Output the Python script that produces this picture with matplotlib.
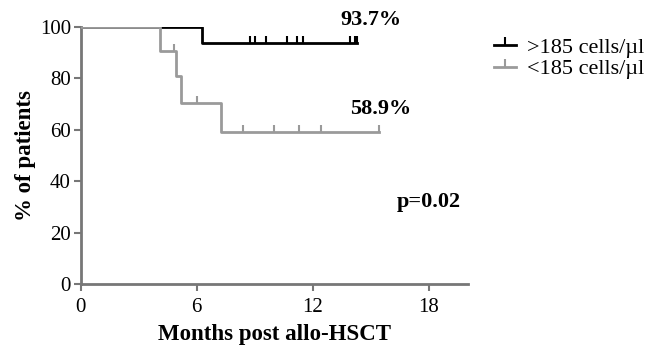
import matplotlib.pyplot as plt
from matplotlib.lines import Line2D

plt.rcParams['font.family'] = ['Liberation Serif', 'DejaVu Serif']

# Kaplan-Meier steps (months, % of patients)
high_t = [0, 6.3, 14.3]
high_s = [100, 93.7, 93.7]
high_cens_t = [4.6, 8.75, 9.0, 9.6, 10.65, 11.2, 11.5, 13.9, 14.2, 14.3]
high_cens_s = [100, 93.7, 93.7, 93.7, 93.7, 93.7, 93.7, 93.7, 93.7, 93.7]

low_t = [0, 4.1, 4.95, 5.2, 7.25, 15.4]
low_s = [100, 90.5, 80.8, 70.4, 58.9, 58.9]
low_cens_t = [4.85, 6.0, 8.4, 10.0, 11.3, 12.4, 15.4]
low_cens_s = [90.5, 70.4, 58.9, 58.9, 58.9, 58.9, 58.9]

labels = ['>185 cells/\u00b5l', '<185 cells/\u00b5l']
colors = ['#000000', '#9a9a9a']
spine_col = '#777777'

fig = plt.figure(figsize=(6.71, 3.45), dpi=100)
ax = fig.add_axes([0.120, 0.176, 0.577, 0.747])

# black first, gray on top (gray covers the shared 100% start)
ax.plot(high_t, high_s, drawstyle='steps-post', color=colors[0], lw=2, zorder=2)
ax.plot(high_cens_t, high_cens_s, ls='none', marker=2, ms=5, mew=1.5, color=colors[0], zorder=2)
ax.plot(low_t, low_s, drawstyle='steps-post', color=colors[1], lw=2, zorder=3)
ax.plot(low_cens_t, low_cens_s, ls='none', marker=2, ms=5, mew=1.5, color=colors[1], zorder=3)

ax.set_xlim(0, 20)
ax.set_ylim(0, 100)
ax.set_xticks([0, 6, 12, 18])
ax.set_yticks([0, 20, 40, 60, 80, 100])
for s in ['top', 'right']:
    ax.spines[s].set_visible(False)
for s in ['left', 'bottom']:
    ax.spines[s].set_color(spine_col)
    ax.spines[s].set_linewidth(2)
ax.tick_params(color=spine_col, width=1.5, length=5, labelsize=15, pad=2)
ax.tick_params(axis='x', pad=5)

ax.set_xlabel('Months post allo-HSCT', fontsize=16.5, fontweight='bold', labelpad=5)
ax.set_ylabel('% of patients', fontsize=16.5, fontweight='bold', labelpad=3)

ax.text(15.0, 102.5, '93.7%', fontsize=16, fontweight='bold', ha='center', va='center', clip_on=False)
ax.text(15.5, 68, '58.9%', fontsize=16, fontweight='bold', ha='center', va='center')
ax.text(18.0, 32, 'p=0.02', fontsize=16, fontweight='bold', ha='center', va='center')

handles = [Line2D([], [], color=c, lw=2, marker=2, ms=6, mew=1.5) for c in colors]
fig.legend(handles, labels, loc='upper left', bbox_to_anchor=(0.723, 0.918), frameon=False,
           fontsize=16, handlelength=1.0, handletextpad=0.5, labelspacing=0.05, borderaxespad=0)

fig.savefig('out.png', dpi=100)
